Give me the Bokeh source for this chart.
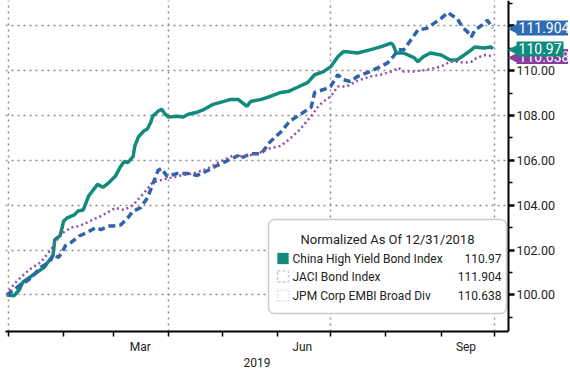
import pandas as pd
from bokeh.plotting import figure
from bokeh.models import (Range1d, FixedTicker, PrintfTickFormatter, Label,
                          BoxAnnotation, DatetimeAxis)
from bokeh.embed import file_html
from bokeh.resources import INLINE

# ---------------- data ----------------
china_dates = ["2018-12-31", "2019-01-04", "2019-01-07", "2019-01-09", "2019-01-13", "2019-01-17",
               "2019-01-21", "2019-01-23", "2019-01-26", "2019-01-27", "2019-01-30", "2019-02-01",
               "2019-02-03", "2019-02-07", "2019-02-09", "2019-02-12", "2019-02-15", "2019-02-20",
               "2019-02-23", "2019-02-26", "2019-03-02", "2019-03-05", "2019-03-07", "2019-03-09",
               "2019-03-12", "2019-03-13", "2019-03-15", "2019-03-18", "2019-03-20", "2019-03-22",
               "2019-03-23", "2019-03-26", "2019-03-28", "2019-03-30", "2019-04-01", "2019-04-06",
               "2019-04-09", "2019-04-12", "2019-04-17", "2019-04-21", "2019-04-26", "2019-05-02",
               "2019-05-06", "2019-05-10", "2019-05-15", "2019-05-17", "2019-05-23", "2019-05-28",
               "2019-06-03", "2019-06-07", "2019-06-12", "2019-06-18", "2019-06-22", "2019-06-27",
               "2019-07-01", "2019-07-05", "2019-07-08", "2019-07-10", "2019-07-16", "2019-07-23",
               "2019-07-29", "2019-08-04", "2019-08-05", "2019-08-07", "2019-08-11", "2019-08-17",
               "2019-08-19", "2019-08-22", "2019-08-26", "2019-09-01", "2019-09-06", "2019-09-10",
               "2019-09-14", "2019-09-18", "2019-09-20", "2019-09-25", "2019-09-29", "2019-09-30"]
china_values = [100.00, 99.96, 100.22, 100.57, 100.79, 101.01,
                101.23, 101.45, 101.76, 102.47, 102.64, 103.30,
                103.44, 103.57, 103.74, 103.79, 104.41, 104.93,
                104.80, 104.98, 105.29, 105.73, 105.95, 105.90,
                106.17, 106.65, 107.05, 107.31, 107.40, 107.71,
                107.97, 108.19, 108.28, 108.06, 107.93, 107.97,
                107.93, 108.06, 108.15, 108.28, 108.50, 108.63,
                108.72, 108.72, 108.41, 108.63, 108.72, 108.85,
                109.03, 109.07, 109.25, 109.47, 109.82, 109.96,
                110.18, 110.62, 110.84, 110.84, 110.79, 110.93,
                111.06, 111.23, 111.15, 110.79, 110.79, 110.57,
                110.40, 110.62, 110.79, 110.70, 110.48, 110.48,
                110.70, 110.93, 111.06, 111.01, 111.06, 110.97]

jaci_dates = ["2018-12-31", "2019-01-04", "2019-01-08", "2019-01-12", "2019-01-15", "2019-01-19",
              "2019-01-22", "2019-01-25", "2019-01-26", "2019-01-29", "2019-01-31", "2019-02-02",
              "2019-02-05", "2019-02-10", "2019-02-14", "2019-02-19", "2019-02-22", "2019-02-26",
              "2019-03-01", "2019-03-05", "2019-03-09", "2019-03-12", "2019-03-16", "2019-03-20",
              "2019-03-23", "2019-03-26", "2019-03-28", "2019-03-31", "2019-04-06", "2019-04-12",
              "2019-04-17", "2019-04-23", "2019-04-28", "2019-05-04", "2019-05-10", "2019-05-11",
              "2019-05-17", "2019-05-23", "2019-05-28", "2019-06-03", "2019-06-08", "2019-06-14",
              "2019-06-20", "2019-06-22", "2019-06-27", "2019-07-01", "2019-07-05", "2019-07-08",
              "2019-07-12", "2019-07-16", "2019-07-23", "2019-07-29", "2019-08-02", "2019-08-05",
              "2019-08-08", "2019-08-11", "2019-08-15", "2019-08-19", "2019-08-24", "2019-08-28",
              "2019-09-01", "2019-09-05", "2019-09-07", "2019-09-10", "2019-09-13", "2019-09-16",
              "2019-09-18", "2019-09-20", "2019-09-24", "2019-09-27", "2019-09-30"]
jaci_values = [100.00, 100.22, 100.48, 100.66, 100.88, 101.23,
               101.37, 101.59, 101.81, 101.67, 101.89, 102.20,
               102.33, 102.64, 102.78, 103.00, 102.91, 103.08,
               103.08, 103.12, 103.44, 103.74, 103.88, 104.32,
               104.93, 105.55, 105.64, 105.29, 105.42, 105.42,
               105.33, 105.55, 105.77, 105.99, 106.21, 106.08,
               106.30, 106.30, 106.83, 107.27, 107.75, 108.06,
               108.37, 109.03, 109.16, 109.30, 109.82, 109.60,
               109.52, 109.74, 109.96, 110.18, 110.35, 110.62,
               110.93, 110.93, 111.37, 111.81, 111.89, 112.11,
               112.33, 112.60, 112.47, 112.33, 111.94, 111.72,
               111.50, 111.81, 112.03, 112.25, 111.904]

embi_dates = ["2018-12-31", "2019-01-04", "2019-01-08", "2019-01-13", "2019-01-19", "2019-01-25",
              "2019-01-30", "2019-02-05", "2019-02-10", "2019-02-16", "2019-02-22", "2019-02-27",
              "2019-03-02", "2019-03-07", "2019-03-12", "2019-03-18", "2019-03-23", "2019-03-29",
              "2019-04-08", "2019-04-15", "2019-04-23", "2019-04-30", "2019-05-07", "2019-05-13",
              "2019-05-21", "2019-05-27", "2019-06-03", "2019-06-08", "2019-06-14", "2019-06-20",
              "2019-06-24", "2019-06-27", "2019-07-01", "2019-07-05", "2019-07-10", "2019-07-16",
              "2019-07-23", "2019-07-29", "2019-08-04", "2019-08-08", "2019-08-11", "2019-08-17",
              "2019-08-24", "2019-09-01", "2019-09-06", "2019-09-10", "2019-09-14", "2019-09-18",
              "2019-09-21", "2019-09-26", "2019-09-30"]
embi_values = [100.00, 100.48, 100.79, 101.15, 101.45, 102.03,
               102.69, 103.00, 103.08, 103.30, 103.52, 103.74,
               103.88, 103.79, 104.01, 104.54, 105.02, 105.15,
               105.33, 105.42, 105.64, 105.95, 106.21, 106.17,
               106.30, 106.52, 106.65, 106.96, 107.40, 107.97,
               108.41, 108.63, 108.85, 109.30, 109.30, 109.55,
               109.74, 109.82, 109.96, 110.13, 109.96, 109.96,
               110.04, 110.18, 110.40, 110.40, 110.35, 110.40,
               110.57, 110.70, 110.638]

series_names = ["China High Yield Bond Index", "JACI Bond Index", "JPM Corp EMBI Broad Div"]
last_labels = ["110.97", "111.904", "110.638"]
legend_title = "Normalized As Of 12/31/2018"
x_month_labels = ["Mar", "Jun", "Sep"]
x_year_label = "2019"
y_ticks = [100, 102, 104, 106, 108, 110, 112]
y_minor = [99, 101, 103, 105, 107, 109, 111, 113]

# ---------------- styles / layout ----------------
TEAL = "#138a7b"
BLUE = "#2f64a8"
PURPLE = "#8f4fa3"
BADGE = {"teal": "#0f8b7d", "blue": "#2e6bb2", "purple": "#8a3ea2"}
FONT = "Roboto"
GRID = "#8c8c8c"
W, H = 568, 369
LEFT, BOTTOM_B = 5, 34
Y0, Y1 = 98.37, 113.13
X_START = pd.Timestamp("2018-12-30 07:30")
X_AXIS = pd.Timestamp("2019-10-08 21:30")    # where the value axis stands
X_END = pd.Timestamp("2019-11-11 14:00")     # room for the axis labels and badges
YEAR_LABEL_AT = pd.Timestamp("2019-05-20 14:00")  # centre of the year caption

def ms(t):
    return pd.Timestamp(t).value // 10**6

p = figure(width=W, height=H, x_axis_type="datetime", y_axis_location="right",
           output_backend="svg", toolbar_location=None,
           x_range=Range1d(X_START, X_END), y_range=Range1d(Y0, Y1),
           min_border_left=LEFT, min_border_top=0, min_border_right=0,
           min_border_bottom=BOTTOM_B)
p.outline_line_color = None
p.background_fill_color = "white"
p.border_fill_color = "white"

# grids
quarter_starts = pd.date_range("2019-01-01", "2019-10-01", freq="QS")
p.xgrid.ticker = FixedTicker(ticks=[ms(t) for t in quarter_starts])
p.ygrid.ticker = FixedTicker(ticks=y_ticks)
for g in (p.xgrid, p.ygrid):
    g.grid_line_color = GRID
    g.grid_line_dash = "2 4"
    g.grid_line_width = 1.5
# keep the area right of the value axis clean
p.add_layout(BoxAnnotation(left=ms(X_AXIS), fill_color="white", fill_alpha=1.0,
                           line_color=None, level="underlay"))

# x axis
month_starts = pd.date_range("2019-01-01", "2019-10-01", freq="MS")
mid_months = [pd.Timestamp("2019-03-16"), pd.Timestamp("2019-06-15"), pd.Timestamp("2019-09-15")]
xa = p.xaxis[0]
xa.bounds = (ms(X_START), ms(X_AXIS))
xa.ticker = FixedTicker(ticks=[ms(t) for t in mid_months], minor_ticks=[ms(t) for t in month_starts])
xa.major_label_overrides = {ms(t): lab for t, lab in zip(mid_months, x_month_labels)}
xa.major_tick_line_color = None
xa.major_tick_out = 0
xa.major_tick_in = 0
xa.minor_tick_out = 5
xa.minor_tick_in = 0
xa.minor_tick_line_color = "black"
xa.minor_tick_line_width = 1.5
xa.axis_line_color = "black"
xa.axis_line_width = 2
xa.major_label_standoff = 3
xa.major_label_text_font = FONT
xa.major_label_text_font_size = "12px"
xa.major_label_text_color = "#222222"

# second row of the time axis: the year
year_axis = DatetimeAxis(ticker=FixedTicker(ticks=[ms(YEAR_LABEL_AT)], minor_ticks=[]),
                         major_label_overrides={ms(YEAR_LABEL_AT): x_year_label},
                         axis_line_color=None, major_tick_line_color=None,
                         minor_tick_line_color=None, major_tick_out=0, major_tick_in=0,
                         minor_tick_out=0, minor_tick_in=0, major_label_standoff=1,
                         major_label_text_font=FONT, major_label_text_font_size="12px",
                         major_label_text_color="#222222")
p.add_layout(year_axis, "below")

# y axis (value axis), fixed at X_AXIS
ya = p.yaxis[0]
ya.fixed_location = ms(X_AXIS)
ya.ticker = FixedTicker(ticks=y_ticks, minor_ticks=y_minor)
ya.formatter = PrintfTickFormatter(format="%.2f")
ya.major_label_overrides = {112: ""}
ya.axis_line_color = "black"
ya.axis_line_width = 2
ya.major_tick_out = 6
ya.major_tick_in = 0
ya.major_tick_line_width = 2.5
ya.major_tick_line_color = "black"
ya.minor_tick_out = 4
ya.minor_tick_in = 0
ya.minor_tick_line_width = 1.5
ya.minor_tick_line_color = "black"
ya.major_label_standoff = 2
ya.major_label_text_font = FONT
ya.major_label_text_font_size = "12.5px"
ya.major_label_text_color = "#222222"

# lines
p.line(pd.to_datetime(china_dates), china_values, color=TEAL, line_width=3.5)
p.line(pd.to_datetime(jaci_dates), jaci_values, color=BLUE, line_width=3.5, line_dash="7 4")
p.line(pd.to_datetime(embi_dates), embi_values, color=PURPLE, line_width=2.5, line_dash="2 3")

# legend box (screen units: relative to the frame)
p.add_layout(BoxAnnotation(left=263, right=501, bottom=18, top=112,
                           left_units="screen", right_units="screen",
                           bottom_units="screen", top_units="screen",
                           fill_color="white", fill_alpha=1.0, line_color="#555555",
                           line_width=1.5, border_radius=6, level="overlay"))
p.add_layout(Label(x=382, y=92, x_units="screen", y_units="screen", text=legend_title,
                   text_align="center", text_baseline="middle", text_font=FONT,
                   text_font_size="13px", text_color="#222222", level="overlay"))
entry_y = [73, 55, 36]
sw_colors = [TEAL, BLUE, PURPLE]
sw_dash = ["solid", "3 2", "1 2"]
for i in range(3):
    yy = entry_y[i]
    if i == 0:
        p.add_layout(BoxAnnotation(left=272, right=283, bottom=yy - 5.5, top=yy + 5.5,
                                   left_units="screen", right_units="screen",
                                   bottom_units="screen", top_units="screen",
                                   fill_color=sw_colors[i], fill_alpha=1.0, line_color=sw_colors[i],
                                   level="overlay"))
    else:
        p.add_layout(BoxAnnotation(left=272, right=283, bottom=yy - 5.5, top=yy + 5.5,
                                   left_units="screen", right_units="screen",
                                   bottom_units="screen", top_units="screen",
                                   fill_alpha=0.0, line_color=sw_colors[i], line_width=1.5,
                                   line_dash=sw_dash[i], level="overlay"))
    p.add_layout(Label(x=287, y=yy, x_units="screen", y_units="screen", text=series_names[i],
                       text_align="left", text_baseline="middle", text_font=FONT,
                       text_font_size="12px", text_color="#222222", level="overlay"))
    p.add_layout(Label(x=496, y=yy, x_units="screen", y_units="screen", text=last_labels[i],
                       text_align="right", text_baseline="middle", text_font=FONT,
                       text_font_size="12px", text_color="#222222", level="overlay"))

# last-value badges beside the value axis
badges = [(embi_values[-1], last_labels[2], BADGE["purple"]),
          (china_values[-1], last_labels[0], BADGE["teal"]),
          (jaci_values[-1], last_labels[1], BADGE["blue"])]
for v, txt, col in badges:
    p.add_layout(Label(x=ms(X_AXIS), y=v, x_offset=-1, text="\u25C0",
                       text_align="left", text_baseline="middle", text_font="DejaVu Sans",
                       text_font_size="16px", text_color=col, level="overlay"))
    p.add_layout(Label(x=ms(X_AXIS), y=v, x_offset=8, text=txt,
                       text_align="left", text_baseline="middle", text_font=FONT,
                       text_font_size="14px", text_color="white",
                       background_fill_color=col, background_fill_alpha=1.0,
                       padding=2, level="overlay"))

open("out.html", "w").write(file_html(p, INLINE))
